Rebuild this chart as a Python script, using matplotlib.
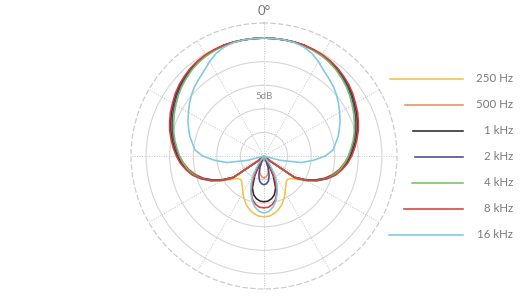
import numpy as np
import matplotlib
matplotlib.use("Agg")
import matplotlib.pyplot as plt
from matplotlib.lines import Line2D

plt.rcParams['font.family'] = ['Lato', 'DejaVu Sans']

# Angles (degrees, one side; pattern is symmetric)
angles = list(range(0, 181, 5))

labels = ["250 Hz", "500 Hz", "1 kHz", "2 kHz", "4 kHz", "8 kHz", "16 kHz"]
colors = ["#F2C14E", "#EF8A5C", "#2B2B2B", "#4C4A8C", "#7CBF66", "#DD3E3A", "#7FC9E2"]

# dB values at 0,5,...,180 deg (center of plot = -25 dB)
db_250 = [0, 0, 0, 0, -0.1, -0.2, -0.4, -0.6, -1.0, -1.4, -1.9, -2.4, -3.0, -3.6, -4.2, -4.8,
          -5.5, -6.2, -7.0, -7.9, -8.8, -10.0, -11.3, -12.8, -14.6, -16.3, -17.6, -18.0,
          -17.7, -17.0, -16.0, -15.0, -14.0, -13.2, -12.6, -12.2, -12.1]
db_500 = [0, 0, 0, 0, 0, -0.2, -0.4, -0.6, -0.9, -1.3, -1.8, -2.3, -2.9, -3.4, -4.0, -4.6,
          -5.3, -6.0, -6.7, -7.5, -8.5, -9.6, -11.1, -12.9, -14.9, -17.2, -23.6, -25,
          -25, -25, -25, -24.0, -22.3, -21.4, -20.9, -20.5, -20.3]
db_1k = [0, 0, 0, 0, 0, -0.2, -0.3, -0.6, -0.9, -1.3, -1.7, -2.2, -2.8, -3.3, -3.9, -4.5,
         -5.2, -5.9, -6.6, -7.4, -8.4, -9.5, -11.0, -12.8, -14.8, -17.0, -23.5, -25,
         -25, -25, -23.3, -20.3, -17.8, -16.5, -15.8, -15.4, -15.3]
db_2k = [0, 0, 0, 0, -0.1, -0.2, -0.4, -0.7, -1.1, -1.5, -2.0, -2.5, -3.1, -3.7, -4.3, -4.9,
         -5.6, -6.3, -7.0, -7.8, -8.7, -9.8, -11.2, -13.0, -15.0, -17.2, -23.5, -25,
         -25, -25, -25, -24.5, -22.5, -20.8, -19.6, -19.1, -18.9]
db_4k = [0, 0, 0, 0, -0.1, -0.3, -0.5, -0.8, -1.2, -1.7, -2.2, -2.8, -3.4, -4.0, -4.6, -5.2,
         -5.8, -6.5, -7.1, -7.8, -8.6, -9.6, -10.9, -12.6, -14.6, -16.9, -23.5, -25,
         -25, -25, -25, -25, -25, -24.8, -24.5, -24.2, -24.0]
db_8k = [0, 0, 0, 0, 0, -0.1, -0.2, -0.4, -0.7, -1.1, -1.5, -2.0, -2.6, -3.1, -3.7, -4.3,
         -5.0, -5.7, -6.4, -7.2, -8.2, -9.3, -10.8, -12.6, -14.6, -16.8, -23.5, -25,
         -25, -24.0, -22.5, -19.5, -17.0, -15.5, -14.6, -14.1, -14.0]
db_16k = [0, 0, 0, -0.1, -0.4, -1.0, -1.9, -2.9, -3.6, -4.2, -4.9, -5.7, -6.5, -7.2, -8.0,
          -8.7, -9.6, -10.3, -12.0, -14.5, -17.0, -21.5, -25, -25, -25, -25, -25, -25,
          -25, -23.0, -20.5, -18.5, -16.8, -15.2, -14.0, -13.2, -12.9]

series = [db_250, db_500, db_1k, db_2k, db_4k, db_8k, db_16k]

RMIN, RMAX = -25, 3.2

fig = plt.figure(figsize=(5.28, 3.00), dpi=100)
cx, cy, R = 264.0, 156.0, 133.0
ax = fig.add_axes([(cx - R) / 528, (300 - cy - R) / 300, 2 * R / 528, 2 * R / 300],
                  projection='polar')
ax.set_theta_zero_location('N')
ax.set_theta_direction(-1)
ax.set_rlim(RMIN, RMAX)
ax.set_rticks([-20, -15, -10, -5, 0])
ax.set_yticklabels([])
ax.set_thetagrids(np.arange(0, 360, 30), labels=[])
ax.xaxis.grid(True, color='#c4c4c4', linestyle=(0, (1, 1.5)), linewidth=0.7)
ax.yaxis.grid(True, color='#d6d6d6', linestyle='-', linewidth=0.8)
ax.spines['polar'].set_linestyle((0, (4, 3)))
ax.spines['polar'].set_color('#c8c8c8')
ax.spines['polar'].set_linewidth(0.8)
ax.tick_params(length=0)

ang = np.array(angles, dtype=float)
full_ang = np.concatenate([ang, 360 - ang[-2::-1]])
for vals, col in zip(series, colors):
    v = np.array(vals, dtype=float)
    full_v = np.concatenate([v, v[-2::-1]])
    ax.plot(np.deg2rad(full_ang), np.clip(full_v, RMIN, None), color=col, lw=1.15)

ax.text(0, 5.7, '0°', ha='center', va='center', fontsize=9.5, color='#777777')
ax.text(0, -12.4, '5dB', ha='center', va='center', fontsize=7, color='#8a8a8a',
        bbox=dict(boxstyle='square,pad=0.15', fc='white', ec='none'))

# legend
ys = [79 + 26 * i for i in range(len(labels))]
for lab, col, y in zip(labels, colors, ys):
    dy = y - cy
    xl = cx + np.sqrt(R ** 2 - dy ** 2) + 18
    fig.add_artist(Line2D([xl / 528, 463 / 528], [1 - y / 300, 1 - y / 300],
                          color=col, lw=1.15, transform=fig.transFigure))
    fig.text(513 / 528, 1 - y / 300, lab, ha='right', va='center', fontsize=8.3,
             color='#7a7a7a')

fig.savefig('out.png', dpi=100)
